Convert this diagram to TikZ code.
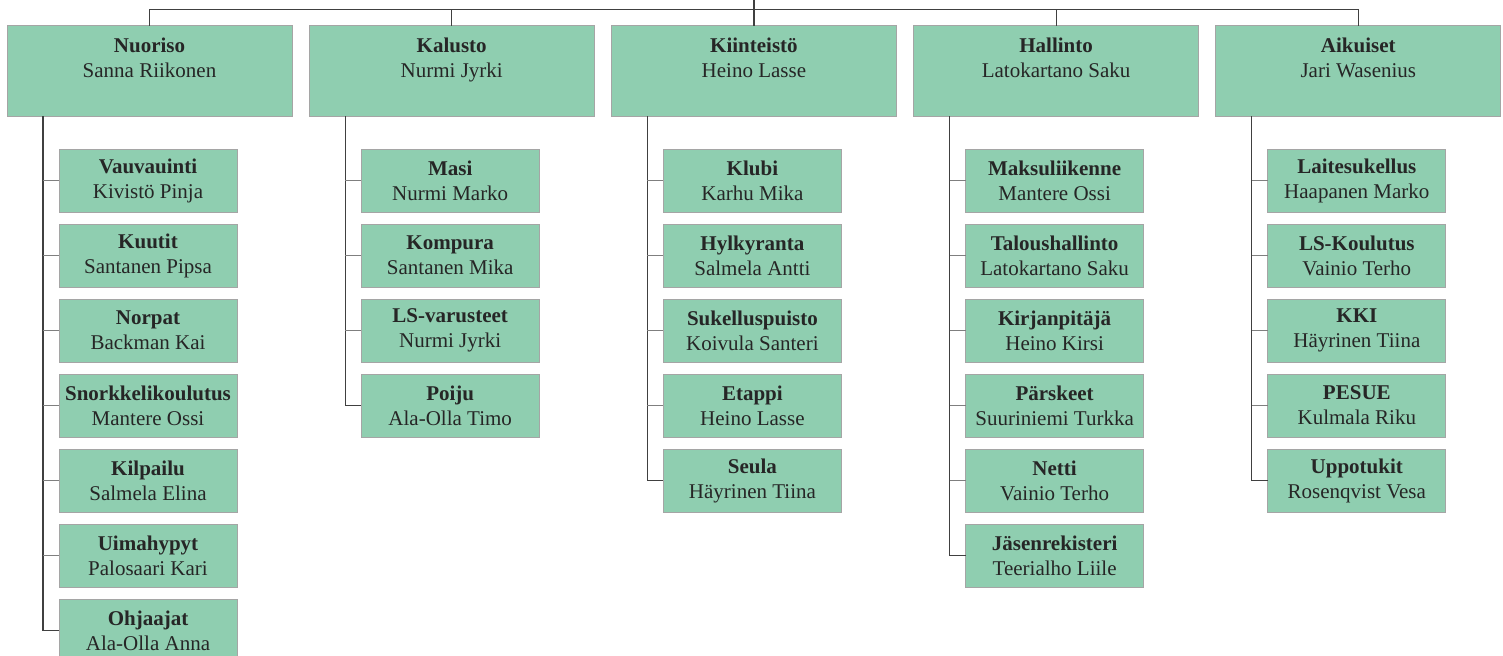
\documentclass[tikz,border=0pt]{standalone}
\usepackage{fontspec}
\setmainfont{Liberation Serif}
\usetikzlibrary{positioning}
\definecolor{boxgreen}{RGB}{143,206,176}
\definecolor{boxline}{RGB}{165,165,165}
\definecolor{trunkgray}{RGB}{64,64,64}
\definecolor{twiggray}{RGB}{127,127,127}
\definecolor{inkgray}{RGB}{38,38,38}

\begin{document}
\begin{tikzpicture}[x=1bp, y=-1bp, node distance=12bp, font=\fontsize{21bp}{25bp}\selectfont,
	hb/.style={rectangle, draw=boxline, fill=boxgreen, line width=1bp, text=inkgray, align=center, minimum width=285bp, minimum height=90bp, inner sep=2bp, outer sep=0pt},
	ub/.style={rectangle, draw=boxline, fill=boxgreen, line width=1bp, text=inkgray, align=center, minimum width=178bp, minimum height=63bp, inner sep=2bp, outer sep=0pt},
	tl/.style={draw=trunkgray, line width=1.2bp},
	bl/.style={draw=twiggray, line width=1.2bp}]
		\useasboundingbox (0,0) rectangle (1503,656);
		\coordinate (head) at (0,0);
		\coordinate (bus) at (0,9.3);

		\node[hb, anchor=north west] (nuoriso) at (7,26) {\textbf{Nuoriso}\\Sanna Riikonen\\[2bp]};
		\node[hb, right=17.2bp of nuoriso] (kalusto) {\textbf{Kalusto}\\Nurmi Jyrki\\[2bp]};
		\node[hb, right=17.2bp of kalusto] (kiinteisto) {\textbf{Kiinteistö}\\Heino Lasse\\[2bp]};
		\node[hb, right=17.2bp of kiinteisto] (hallinto) {\textbf{Hallinto}\\Latokartano Saku\\[2bp]};
		\node[hb, right=17.2bp of hallinto] (aikuiset) {\textbf{Aikuiset}\\Jari Wasenius\\[2bp]};

		\node[ub, below right=33bp and 52bp of nuoriso.south west] (vauvauinti) {\textbf{Vauvauinti}\\Kivistö Pinja};
		\node[ub, below=of vauvauinti] (kuutit) {\textbf{Kuutit}\\Santanen Pipsa};
		\node[ub, below=of kuutit] (norpat) {\textbf{Norpat}\\Backman Kai};
		\node[ub, below=of norpat] (snorkkeli) {\textbf{Snorkkelikoulutus}\\Mantere Ossi};
		\node[ub, below=of snorkkeli] (kilpailu) {\textbf{Kilpailu}\\Salmela Elina};
		\node[ub, below=of kilpailu] (uimahypyt) {\textbf{Uimahypyt}\\Palosaari Kari};
		\node[ub, below=of uimahypyt] (ohjaajat) {\textbf{Ohjaajat}\\Ala-Olla Anna};

		\node[ub, below right=33bp and 52bp of kalusto.south west] (masi) {\textbf{Masi}\\Nurmi Marko};
		\node[ub, below=of masi] (kompura) {\textbf{Kompura}\\Santanen Mika};
		\node[ub, below=of kompura] (lsvarusteet) {\textbf{LS-varusteet}\\Nurmi Jyrki};
		\node[ub, below=of lsvarusteet] (poiju) {\textbf{Poiju}\\Ala-Olla Timo};

		\node[ub, below right=33bp and 52bp of kiinteisto.south west] (klubi) {\textbf{Klubi}\\Karhu Mika};
		\node[ub, below=of klubi] (hylkyranta) {\textbf{Hylkyranta}\\Salmela Antti};
		\node[ub, below=of hylkyranta] (sukelluspuisto) {\textbf{Sukelluspuisto}\\Koivula Santeri};
		\node[ub, below=of sukelluspuisto] (etappi) {\textbf{Etappi}\\Heino Lasse};
		\node[ub, below=of etappi] (seula) {\textbf{Seula}\\Häyrinen Tiina};

		\node[ub, below right=33bp and 52bp of hallinto.south west] (maksuliikenne) {\textbf{Maksuliikenne}\\Mantere Ossi};
		\node[ub, below=of maksuliikenne] (taloushallinto) {\textbf{Taloushallinto}\\Latokartano Saku};
		\node[ub, below=of taloushallinto] (kirjanpitaja) {\textbf{Kirjanpitäjä}\\Heino Kirsi};
		\node[ub, below=of kirjanpitaja] (parskeet) {\textbf{Pärskeet}\\Suuriniemi Turkka};
		\node[ub, below=of parskeet] (netti) {\textbf{Netti}\\Vainio Terho};
		\node[ub, below=of netti] (jasenrekisteri) {\textbf{Jäsenrekisteri}\\Teerialho Liile};

		\node[ub, below right=33bp and 52bp of aikuiset.south west] (laitesukellus) {\textbf{Laitesukellus}\\Haapanen Marko};
		\node[ub, below=of laitesukellus] (lskoulutus) {\textbf{LS-Koulutus}\\Vainio Terho};
		\node[ub, below=of lskoulutus] (kki) {\textbf{KKI}\\Häyrinen Tiina};
		\node[ub, below=of kki] (pesue) {\textbf{PESUE}\\Kulmala Riku};
		\node[ub, below=of pesue] (uppotukit) {\textbf{Uppotukit}\\Rosenqvist Vesa};

		% top level
		\path[tl] (kiinteisto.north) -- (kiinteisto.north |- head);
		\path[tl] (nuoriso.north) |- (aikuiset.north |- bus) -- (aikuiset.north);
		\path[tl] (kalusto.north) -- (kalusto.north |- bus);
		\path[tl] (hallinto.north) -- (hallinto.north |- bus);

		% stems
		\coordinate (nuoriso_s) at ([xshift=36bp]nuoriso.south west);
		\coordinate (kalusto_s) at ([xshift=36bp]kalusto.south west);
		\coordinate (kiinteisto_s) at ([xshift=36bp]kiinteisto.south west);
		\coordinate (hallinto_s) at ([xshift=36bp]hallinto.south west);
		\coordinate (aikuiset_s) at ([xshift=36bp]aikuiset.south west);
		\path[tl] (nuoriso_s) |- (ohjaajat.west);
		\path[tl] (kalusto_s) |- (poiju.west);
		\path[tl] (kiinteisto_s) |- (seula.west);
		\path[tl] (hallinto_s) |- (jasenrekisteri.west);
		\path[tl] (aikuiset_s) |- (uppotukit.west);

		% branches
		\path[bl] (nuoriso_s |- vauvauinti.west) -- (vauvauinti.west);
		\path[bl] (nuoriso_s |- kuutit.west) -- (kuutit.west);
		\path[bl] (nuoriso_s |- norpat.west) -- (norpat.west);
		\path[bl] (nuoriso_s |- snorkkeli.west) -- (snorkkeli.west);
		\path[bl] (nuoriso_s |- kilpailu.west) -- (kilpailu.west);
		\path[bl] (nuoriso_s |- uimahypyt.west) -- (uimahypyt.west);
		\path[bl] (kalusto_s |- masi.west) -- (masi.west);
		\path[bl] (kalusto_s |- kompura.west) -- (kompura.west);
		\path[bl] (kalusto_s |- lsvarusteet.west) -- (lsvarusteet.west);
		\path[bl] (kiinteisto_s |- klubi.west) -- (klubi.west);
		\path[bl] (kiinteisto_s |- hylkyranta.west) -- (hylkyranta.west);
		\path[bl] (kiinteisto_s |- sukelluspuisto.west) -- (sukelluspuisto.west);
		\path[bl] (kiinteisto_s |- etappi.west) -- (etappi.west);
		\path[bl] (hallinto_s |- maksuliikenne.west) -- (maksuliikenne.west);
		\path[bl] (hallinto_s |- taloushallinto.west) -- (taloushallinto.west);
		\path[bl] (hallinto_s |- kirjanpitaja.west) -- (kirjanpitaja.west);
		\path[bl] (hallinto_s |- parskeet.west) -- (parskeet.west);
		\path[bl] (hallinto_s |- netti.west) -- (netti.west);
		\path[bl] (aikuiset_s |- laitesukellus.west) -- (laitesukellus.west);
		\path[bl] (aikuiset_s |- lskoulutus.west) -- (lskoulutus.west);
		\path[bl] (aikuiset_s |- kki.west) -- (kki.west);
		\path[bl] (aikuiset_s |- pesue.west) -- (pesue.west);
	\end{tikzpicture}
\end{document}
